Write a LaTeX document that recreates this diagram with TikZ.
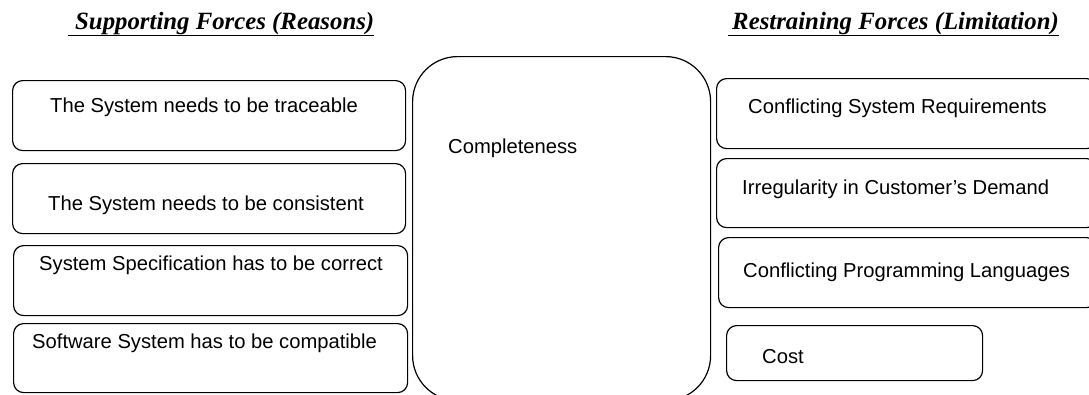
\documentclass[tikz,border=0pt]{standalone}
\usepackage{fontspec}
\setmainfont{Liberation Sans}
\newfontfamily\titlefont{Liberation Serif}
\begin{document}
\begin{tikzpicture}[x=1pt,y=-1pt,
  forcebox/.style={draw=black, line width=1.2pt, rounded corners=10pt, inner sep=0pt, anchor=north west},
  corebox/.style={draw=black, line width=1.2pt, rounded corners=45pt, inner sep=0pt, anchor=north west},
  label/.style={anchor=base west, inner sep=0pt, font=\fontsize{20.2}{24}\selectfont},
  heading/.style={anchor=base west, inner sep=0pt, font=\titlefont\bfseries\itshape\fontsize{24.8}{28}\selectfont}]
\useasboundingbox (0,0) rectangle (1089,394);

% headings
\node[heading] (hsup) at (68,29) {\underline{\hspace{7pt}Supporting Forces (Reasons)}};
\node[heading] (hres) at (728,29) {\underline{\hspace{4pt}Restraining Forces (Limitation)}};

% supporting forces
\node[forcebox, minimum width=393pt, minimum height=70pt] (s1) at (12,80) {};
\node[forcebox, minimum width=393pt, minimum height=70pt] (s2) at (12,163) {};
\node[forcebox, minimum width=394pt, minimum height=70pt] (s3) at (13,245) {};
\node[forcebox, minimum width=394pt, minimum height=69pt] (s4) at (13,323) {};
\node[label] (ts1) at (50,112) {The System needs to be traceable};
\node[label] (ts2) at (48,210) {The System needs to be consistent};
\node[label] (ts3) at (39,270) {System Specification has to be correct};
\node[label] (ts4) at (32,348) {Software System has to be compatible};

% central element
\node[corebox, minimum width=298pt, minimum height=344pt] (core) at (412,56) {};
\node[label] (tcore) at (448,153) {Completeness};

% restraining forces
\node[forcebox, minimum width=380pt, minimum height=70pt] (r1) at (716,78) {};
\node[forcebox, minimum width=380pt, minimum height=69pt] (r2) at (716,158) {};
\node[forcebox, minimum width=378pt, minimum height=70pt] (r3) at (718,237) {};
\node[forcebox, minimum width=256pt, minimum height=55pt] (r4) at (726,325) {};
\node[label] (tr1) at (748,113) {Conflicting System Requirements};
\node[label] (tr2) at (742,194) {Irregularity in Customer's Demand};
\node[label] (tr3) at (743,277) {Conflicting Programming Languages};
\node[label] (tr4) at (762,363) {Cost};
\end{tikzpicture}
\end{document}
